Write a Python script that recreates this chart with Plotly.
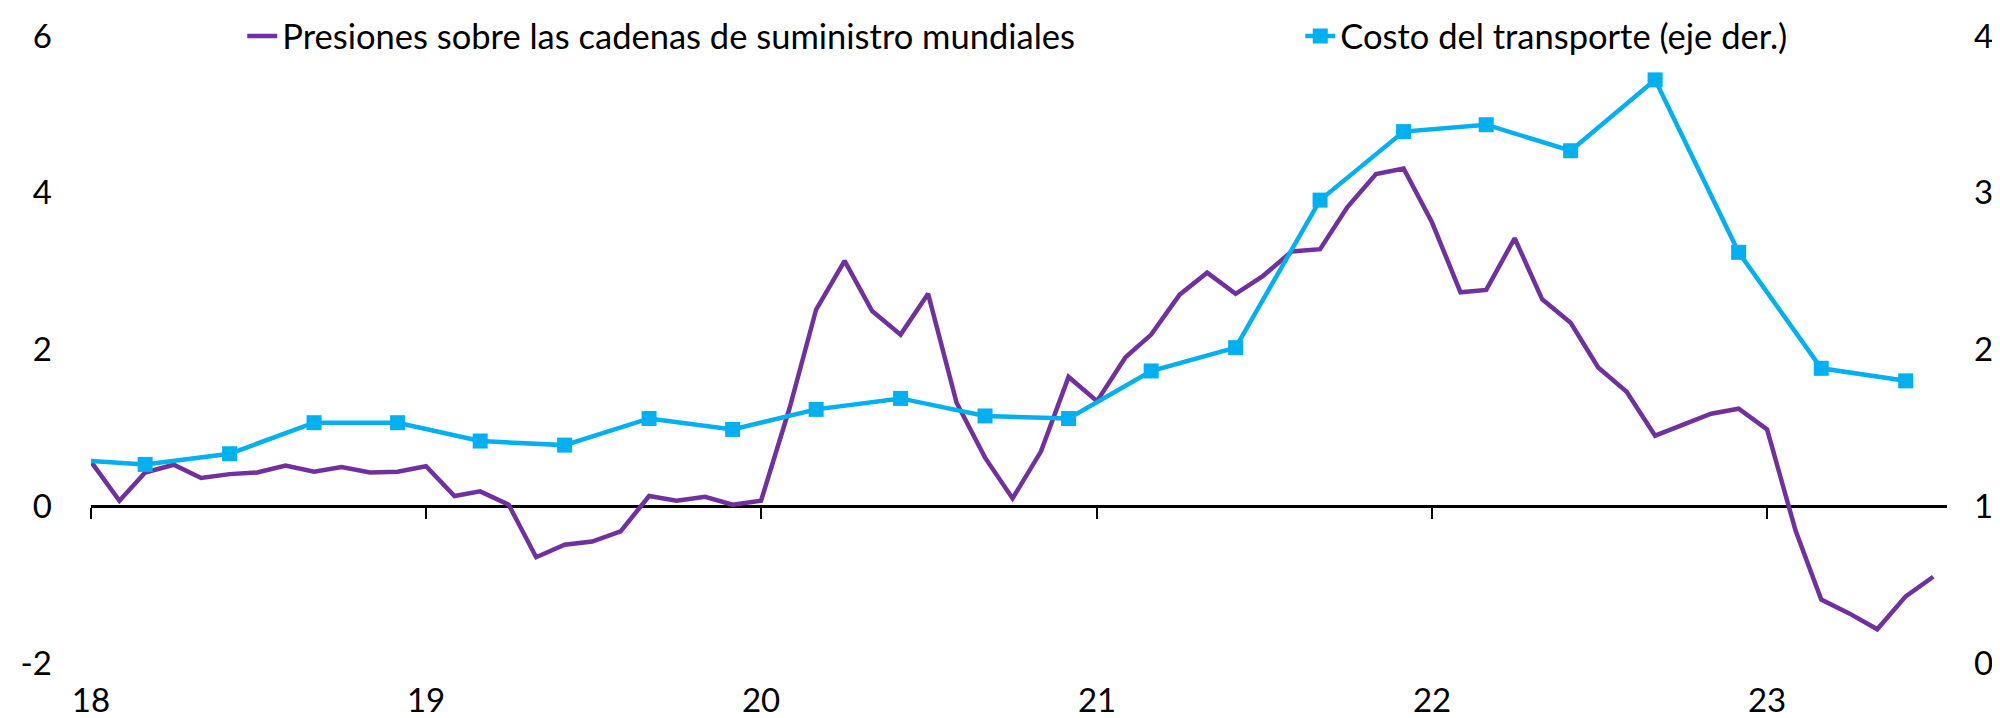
import pandas as pd
import plotly.graph_objects as go

# ---- data ----
pressure_months = pd.date_range("2018-01-01", "2023-07-01", freq="MS")
pressure_values = [
    0.57, 0.07, 0.43, 0.53, 0.36, 0.41, 0.43, 0.52, 0.44, 0.50, 0.43, 0.44,
    0.51, 0.13, 0.19, 0.02, -0.65, -0.49, -0.45, -0.32, 0.13, 0.07, 0.12, 0.02,
    0.07, 1.25, 2.51, 3.13, 2.49, 2.19, 2.71, 1.32, 0.62, 0.10, 0.70, 1.65,
    1.34, 1.90, 2.19, 2.70, 2.98, 2.71, 2.94, 3.25, 3.28, 3.82, 4.24, 4.31,
    3.62, 2.73, 2.76, 3.42, 2.64, 2.34, 1.77, 1.46, 0.90, 1.04, 1.18, 1.245,
    0.98, -0.31, -1.19, -1.37, -1.57, -1.15, -0.90,
]
transport_quarters = pd.date_range("2017-12-01", "2023-06-01", freq="3MS")
transport_values = [
    1.30, 1.267, 1.335, 1.533, 1.533, 1.416, 1.39, 1.56, 1.49,
    1.618, 1.688, 1.576, 1.56, 1.863, 2.012, 2.953, 3.39,
    3.434, 3.268, 3.72, 2.62, 1.88, 1.80,
]
year_ticks = pd.to_datetime(["2018-01-01", "2019-01-01", "2020-01-01",
                             "2021-01-01", "2022-01-01", "2023-01-01"])
year_labels = ["18", "19", "20", "21", "22", "23"]
left_ticks = [-2, 0, 2, 4, 6]
left_labels = ["-2", "0", "2", "4", "6"]
right_ticks = [0, 1, 2, 3, 4]
right_labels = ["0", "1", "2", "3", "4"]

name_pressure = "Presiones sobre las cadenas de suministro mundiales"
name_transport = "Costo del transporte (eje der.)"

PURPLE = "#7030A0"
CYAN = "#00B0F0"
FONT = "Lato"
FS_TICK = 33
FS_LEG = 34.5

x_range = ["2018-01-01", "2023-07-16"]

fig = go.Figure()
fig.add_trace(go.Scatter(
    x=pressure_months, y=pressure_values, name=name_pressure,
    mode="lines", line=dict(color=PURPLE, width=4.5),
    xaxis="x", yaxis="y", legendwidth=1013,
))
fig.add_trace(go.Scatter(
    x=transport_quarters, y=transport_values, name=name_transport,
    mode="lines+markers", line=dict(color=CYAN, width=4.5),
    marker=dict(symbol="square", size=15, color=CYAN),
    xaxis="x2", yaxis="y2",
))

fig.update_layout(
    width=2000, height=718,
    margin=dict(l=83, r=61, t=28, b=63, autoexpand=False),
    paper_bgcolor="white", plot_bgcolor="white",
    font=dict(family=FONT, size=FS_TICK, color="#000000"),
    showlegend=True,
    legend=dict(
        orientation="h", x=0.0815, xanchor="left",
        yref="container", y=1 - 28 / 718, yanchor="middle",
        font=dict(family=FONT, size=FS_LEG, color="#000000"),
        bgcolor="rgba(0,0,0,0)", traceorder="normal",
    ),
    xaxis=dict(
        range=x_range, tickvals=year_ticks, ticktext=year_labels,
        showline=False, showgrid=False, zeroline=False, ticks="",
        ticklabelstandoff=15, anchor="y", automargin=False,
    ),
    xaxis2=dict(
        range=x_range, overlaying="x", anchor="free", position=0.25,
        tickvals=year_ticks, showticklabels=False,
        showline=True, linecolor="#000000", linewidth=2.5,
        ticks="outside", ticklen=11, tickwidth=2, tickcolor="#000000",
        showgrid=False, zeroline=False, layer="below traces",
        automargin=False,
    ),
    yaxis=dict(
        range=[-2, 6], tickvals=left_ticks, ticktext=left_labels,
        showgrid=False, zeroline=False, showline=False, ticks="",
        ticklabelstandoff=38, automargin=False,
    ),
    yaxis2=dict(
        range=[0, 4], tickvals=right_ticks, ticktext=right_labels,
        overlaying="y", side="right", anchor="x2",
        showgrid=False, zeroline=False, showline=False, ticks="",
        ticklabelstandoff=26, automargin=False,
    ),
)

fig.write_html("out.html")
